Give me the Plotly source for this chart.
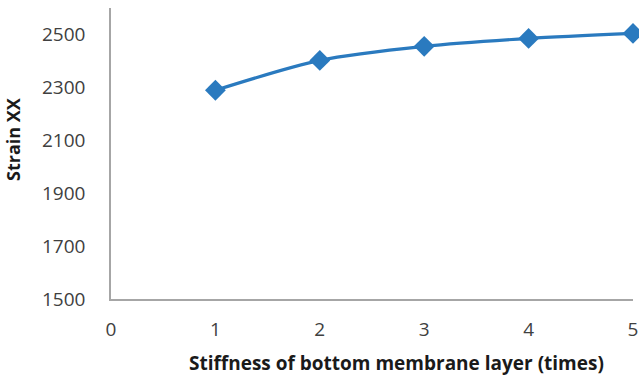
import plotly.graph_objects as go

stiffness = [1, 2, 3, 4, 5]
strain_xx = [2289, 2402, 2455, 2485, 2504]
x_ticks = [0, 1, 2, 3, 4, 5]
y_ticks = [1500, 1700, 1900, 2100, 2300, 2500]

fig = go.Figure()
fig.add_trace(go.Scatter(
    x=stiffness, y=strain_xx, mode="lines+markers",
    line=dict(color="#2a7abf", width=3.2, shape="spline", smoothing=0.8),
    marker=dict(symbol="diamond", size=16, color="#2a7abf"),
    cliponaxis=False, showlegend=False,
))

font_family = "Open Sans"
fig.update_layout(
    width=639, height=379,
    margin=dict(l=111, r=6, t=8, b=80, autoexpand=False),
    paper_bgcolor="white", plot_bgcolor="white",
    font=dict(family=font_family, color="#404040", size=19),
    xaxis=dict(range=[0, 5], tickvals=x_ticks, showgrid=False, zeroline=False,
               showline=True, linecolor="#a6a6a6", linewidth=1.5,
               ticks="", ticklabelstandoff=12, automargin=False,
               tickfont=dict(size=19, color="#404040")),
    yaxis=dict(range=[1500, 2600], tickvals=y_ticks, showgrid=False, zeroline=False,
               showline=True, linecolor="#a6a6a6", linewidth=1.5,
               ticks="", ticklabelstandoff=20, automargin=False,
               tickfont=dict(size=19, color="#404040")),
    annotations=[
        dict(text="<b>Stiffness of bottom membrane layer (times)</b>",
             xref="paper", yref="paper", x=(396 - 111) / 522, y=-(363 - 299) / 291,
             xanchor="center", yanchor="middle", showarrow=False,
             font=dict(family=font_family, size=19, color="#1a1a1a")),
        dict(text="<b>Strain XX</b>", textangle=-90,
             xref="paper", yref="paper", x=-(111 - 13) / 522, y=(299 - 140) / 291,
             xanchor="center", yanchor="middle", showarrow=False,
             font=dict(family=font_family, size=18, color="#1a1a1a")),
    ],
)

fig.write_html("out.html",
               config={"displayModeBar": False},
               post_script="document.body.style.margin='0';document.body.style.overflow='hidden';")
